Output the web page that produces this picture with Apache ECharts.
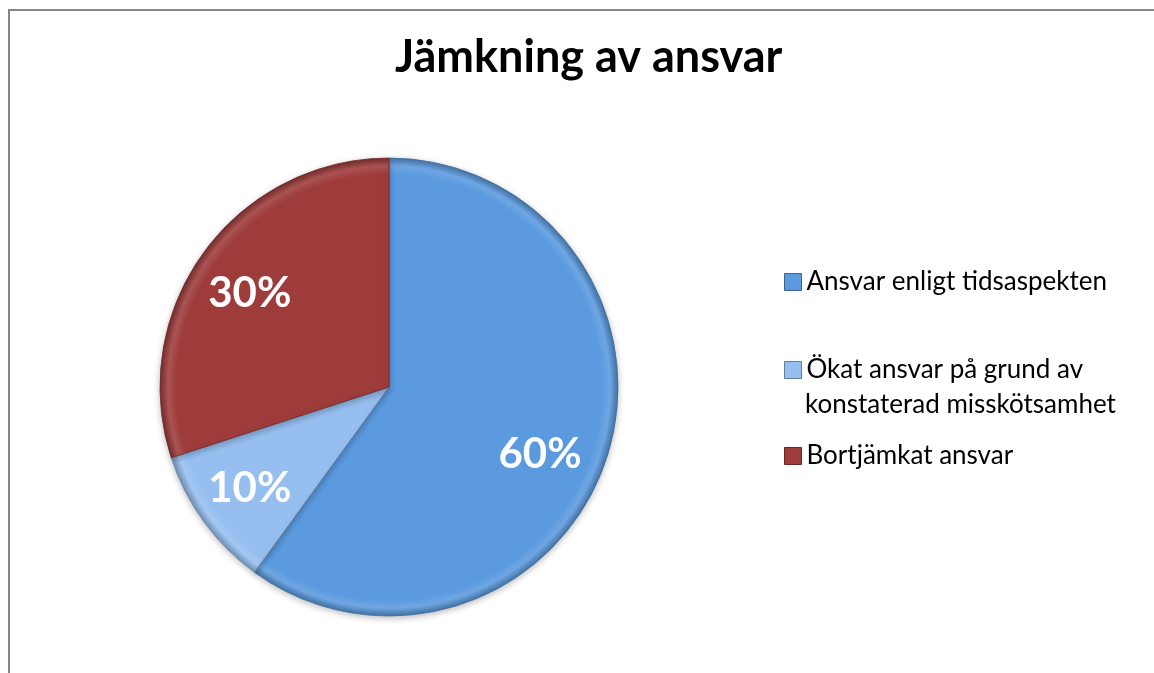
<!DOCTYPE html>
<html>
<head>
<meta charset="utf-8">
<script src="https://cdn.jsdelivr.net/npm/echarts@6/dist/echarts.min.js"></script>
<style>
  html, body { margin: 0; padding: 0; background: #fff; }
  #chart { width: 1154px; height: 673px; }
</style>
</head>
<body>
<div id="chart"></div>
<script>
const categories = ['Ansvar enligt tidsaspekten', 'Ökat ansvar på grund av konstaterad misskötsamhet', 'Bortjämkat ansvar'];
const legendLabels = ['Ansvar enligt tidsaspekten', 'Ökat ansvar på grund av', 'Bortjämkat ansvar'];
const values = [60, 10, 30];
const colors = ['#5B9ADF', '#96BFF0', '#9E3C3B'];

const PIE_CX = 389;
const PIE_CY = 387;
const PIE_R = 229;
const LABEL_RATIO = 0.73;
// small per-slice label nudges, in pixels
const LABEL_NUDGE = [[-8, 16], [-4, 3], [-4, 5]];
const FONT = 'Lato, "Open Sans", sans-serif';

function shade(hex, f) {
    const n = parseInt(hex.slice(1), 16);
    let r = (n >> 16) & 255, g = (n >> 8) & 255, b = n & 255;
    r = Math.round(f < 0 ? r * (1 + f) : r + (255 - r) * f);
    g = Math.round(f < 0 ? g * (1 + f) : g + (255 - g) * f);
    b = Math.round(f < 0 ? b * (1 + f) : b + (255 - b) * f);
    return 'rgb(' + r + ',' + g + ',' + b + ')';
}

function sliceFill(c) {
    return new echarts.graphic.RadialGradient(PIE_CX, PIE_CY, PIE_R, [
        { offset: 0, color: c },
        { offset: 0.93, color: c },
        { offset: 0.965, color: shade(c, 0.12) },
        { offset: 1, color: shade(c, -0.25) }
    ], true);
}

const chart = echarts.init(document.getElementById('chart'), null, { renderer: 'canvas' });

const legendTops = [264, 352, 438];

const option = {
    backgroundColor: '#fff',
    animation: false,
    title: {
        text: 'Jämkning av ansvar',
        left: 390,
        top: 30,
        textStyle: { fontFamily: FONT, fontWeight: 'bold', fontSize: 45, color: '#000' }
    },
    legend: legendLabels.map(function (name, i) {
        return {
            left: 779,
            top: legendTops[i],
            orient: 'vertical',
            icon: 'rect',
            itemWidth: 17,
            itemHeight: 17,
            selectedMode: false,
            data: [{ name: categories[i], itemStyle: { color: colors[i], borderColor: shade(colors[i], -0.35), borderWidth: 1 } }],
            formatter: function () { return name; },
            textStyle: { fontFamily: FONT, fontSize: 26, color: '#000' }
        };
    }),
    graphic: [
        {
            type: 'rect',
            shape: { x: 9, y: 10, width: 1200, height: 700 },
            style: { fill: 'none', stroke: '#868686', lineWidth: 2 },
            silent: true
        },
        {
            type: 'text',
            left: 805,
            top: 392,
            style: { text: 'konstaterad misskötsamhet', font: '26px ' + FONT, fill: '#000' }
        }
    ],
    series: [{
        type: 'pie',
        center: [PIE_CX, PIE_CY],
        radius: [0, PIE_R],
        startAngle: 90,
        clockwise: true,
        silent: true,
        data: categories.map(function (name, i) {
            return {
                name: name,
                value: values[i],
                itemStyle: {
                    color: sliceFill(colors[i]),
                    borderColor: shade(colors[i], -0.3),
                    borderWidth: 0.8
                }
            };
        }),
        itemStyle: { shadowBlur: 6, shadowColor: 'rgba(0,0,0,0.25)', shadowOffsetY: 2 },
        label: {
            show: true,
            position: 'inside',
            formatter: '{d}%',
            fontFamily: FONT,
            fontWeight: 'bold',
            fontSize: 42,
            color: '#fff'
        },
        labelLine: { show: false },
        labelLayout: function (params) {
            const r = params.labelRect;
            const lx = r.x + r.width / 2;
            const ly = r.y + r.height / 2;
            const dx = lx - PIE_CX;
            const dy = ly - PIE_CY;
            const len = Math.sqrt(dx * dx + dy * dy) || 1;
            const nudge = LABEL_NUDGE[params.dataIndex] || [0, 0];
            return {
                x: PIE_CX + dx / len * PIE_R * LABEL_RATIO + nudge[0],
                y: PIE_CY + dy / len * PIE_R * LABEL_RATIO + nudge[1]
            };
        }
    }]
};

chart.setOption(option);
</script>
</body>
</html>
